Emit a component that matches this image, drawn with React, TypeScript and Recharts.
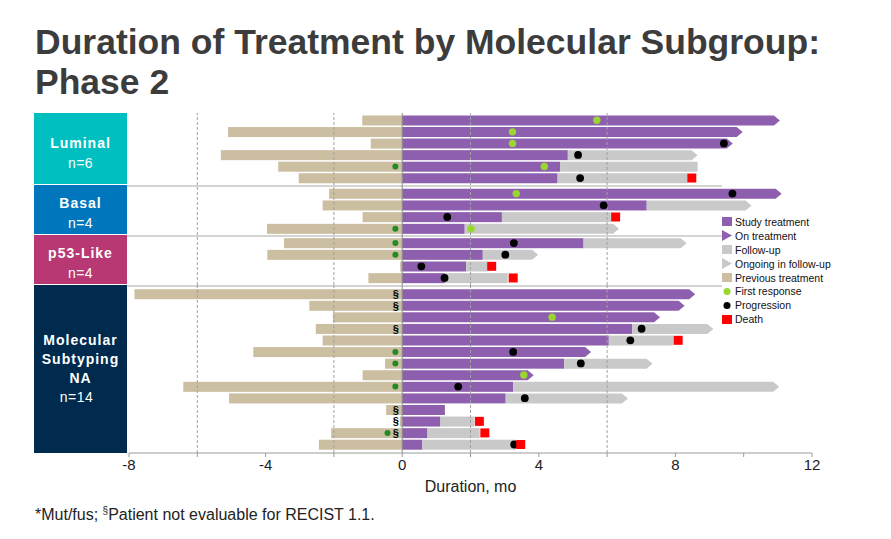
import React from 'react';
import { ComposedChart, Bar, Line, XAxis, YAxis, ReferenceLine } from 'recharts';

// ---------- data ----------
const groupNames = ['Luminal', 'Basal', 'p53-Like', 'Molecular Subtyping NA'];
const groupCounts = [6, 4, 4, 14];
const groupNLabels = ['n=6', 'n=4', 'n=4', 'n=14'];
const groupColors = ['#00BFC0', '#0077BC', '#B73873', '#002B4F'];

// months before study start (negative)
const previousTreatment = [
  -1.17, -5.1, -0.92, -5.31, -3.63, -3.03,
  -2.14, -2.33, -1.16, -3.96,
  -3.46, -3.95, -0.06, -0.99,
  -7.84, -2.72, -2.03, -2.53, -2.33, -4.36, -0.5, -1.16, -6.41, -5.07, -0.47, -0.07, -2.08, -2.44,
];
// end of study treatment (months)
const studyTreatmentEnd = [
  11.06, 9.97, 9.68, 4.85, 4.63, 4.55,
  11.11, 7.16, 2.92, 1.83,
  5.31, 2.36, 1.87, 1.26,
  8.58, 8.27, 7.55, 6.74, 6.05, 5.53, 4.74, 3.85, 3.25, 3.03, 1.25, 1.12, 0.74, 0.59,
];
const onTreatment = [
  true, true, true, false, false, false,
  true, false, false, false,
  false, false, false, false,
  true, true, true, false, false, true, false, true, false, false, false, false, false, false,
];
// end of follow-up (months)
const followUpEnd: (number | null)[] = [
  null, null, null, 8.65, 8.65, 8.35,
  null, 10.23, 6.11, 6.35,
  8.33, 3.98, 2.49, 3.09,
  null, null, null, 9.11, 7.94, null, 7.33, null, 11.04, 6.61, null, 2.11, 2.27, 3.35,
];
const ongoingFollowUp = [
  false, false, false, true, false, false,
  false, true, false, true,
  true, true, false, false,
  false, false, false, true, false, false, true, false, true, true, false, false, false, false,
];
const firstResponse: (number | null)[] = [
  5.7, 3.23, 3.23, null, 4.16, null,
  3.34, null, null, 2.02,
  null, null, null, null,
  null, null, 4.39, null, null, null, null, 3.56, null, null, null, null, null, null,
];
const progression: (number | null)[] = [
  null, null, 9.42, 5.15, null, 5.21,
  9.67, 5.9, 1.32, null,
  3.27, 3.02, 0.56, 1.24,
  null, null, null, 7.01, 6.68, 3.25, 5.23, null, 1.64, 3.59, null, null, null, 3.28,
];
const death: (number | null)[] = [
  null, null, null, null, null, 8.48,
  null, null, 6.25, null,
  null, null, 2.62, 3.25,
  null, null, null, null, 8.08, null, null, null, null, null, null, 2.26, 2.42, 3.47,
];
// * Mut/fus marker
const mutFus: (number | null)[] = [
  null, null, null, null, -0.2, null,
  null, null, null, -0.2,
  -0.2, -0.2, null, null,
  null, null, null, null, null, -0.2, -0.2, null, -0.2, null, null, null, -0.43, null,
];
// § not evaluable for RECIST 1.1
const notEvaluable: (number | null)[] = [
  null, null, null, null, null, null,
  null, null, null, null,
  null, null, null, null,
  -0.19, -0.19, null, -0.19, null, null, null, null, null, null, -0.19, -0.19, -0.19, null,
];

const xTicks = [-8, -6, -4, -2, 0, 2, 4, 6, 8, 10, 12];
const xLabelTicks = [-8, -4, 0, 4, 8, 12];
const dashedGrid = [-6, -2, 2, 6];

// ---------- colors ----------
const PURPLE = '#8F5FAF';
const GRAY = '#C9C9C9';
const TAN = '#CCBEA0';
const LGREEN = '#99D62F';
const DGREEN = '#228B22';
const RED = '#FF0000';
const FONT = '"Liberation Sans", Arial, sans-serif';

const rows = previousTreatment.map((p, i) => ({
  id: 'P' + (i + 1),
  prev: p,
  study: studyTreatmentEnd[i],
  follow: followUpEnd[i] != null ? (followUpEnd[i] as number) - studyTreatmentEnd[i] : 0,
  onTx: onTreatment[i],
  ongoing: ongoingFollowUp[i],
  resp: firstResponse[i],
  prog: progression[i],
  death: death[i],
  mut: mutFus[i],
  nev: notEvaluable[i],
}));

const arrowShape = (flag: 'onTx' | 'ongoing' | null) => (props: any) => {
  const { x, y, width, height, fill, payload } = props;
  if (x == null || width == null || Math.abs(width) < 0.5) return <g />;
  const x0 = Math.min(x, x + width);
  const w = Math.abs(width);
  if (flag && payload && payload[flag]) {
    const tip = 6;
    const pts = [
      [x0, y],
      [x0 + w - tip, y],
      [x0 + w, y + height / 2],
      [x0 + w - tip, y + height],
      [x0, y + height],
    ]
      .map((p) => p.join(','))
      .join(' ');
    return <polygon points={pts} fill={fill} />;
  }
  return <rect x={x0} y={y} width={w} height={height} fill={fill} />;
};

const markerDot = (kind: string) => (props: any) => {
  const { cx, cy, index, value } = props;
  const key = `${kind}-${index}`;
  if (value == null || cx == null || cy == null || Number.isNaN(cx)) return <g key={key} />;
  if (kind === 'resp') return <circle key={key} cx={cx} cy={cy} r={3.7} fill={LGREEN} />;
  if (kind === 'prog') return <circle key={key} cx={cx} cy={cy} r={3.9} fill="#000" />;
  if (kind === 'death')
    return <rect key={key} x={cx - 4.5} y={cy - 4.5} width={9} height={9} fill={RED} />;
  if (kind === 'mut') return <circle key={key} cx={cx} cy={cy} r={3} fill={DGREEN} />;
  if (kind === 'nev')
    return (
      <text key={key} x={cx} y={cy + 4} fontSize={11} fontWeight="bold" textAnchor="middle" fill="#000" fontFamily={FONT}>
        §
      </text>
    );
  return <g key={key} />;
};

type GroupProps = {
  data: any[];
  top: number;
  height: number;
  padTop: number;
  padBottom: number;
  showAxis: boolean;
};

const AXIS_H = 42;

function GroupChart({ data, top, height, padTop, padBottom, showAxis }: GroupProps) {
  const h = height + (showAxis ? AXIS_H : 0);
  return (
    <div style={{ position: 'absolute', left: 0, top }}>
      <ComposedChart
        width={891}
        height={h}
        data={data}
        layout="vertical"
        stackOffset="sign"
        margin={{ top: 0, right: 79, bottom: 0, left: 129 }}
        barSize={10}
      >
        <XAxis
          type="number"
          domain={[-8, 12]}
          ticks={xTicks}
          interval={0}
          hide={!showAxis}
          height={AXIS_H}
          stroke="#9a9a9a"
          tickSize={4}
          tickMargin={2}
          tick={{ fill: '#222', fontSize: 15, fontFamily: FONT }}
          tickFormatter={(v: number) => (xLabelTicks.includes(v) ? String(v) : '')}
          label={{
            value: 'Duration, mo',
            position: 'insideBottom',
            offset: 3,
            fill: '#222',
            fontSize: 16,
            fontFamily: FONT,
          }}
        />
        <YAxis type="category" dataKey="id" hide padding={{ top: padTop, bottom: padBottom }} />
        {dashedGrid.map((g) => (
          <ReferenceLine key={g} x={g} stroke="#a0a0a0" strokeDasharray="3 2" ifOverflow="extendDomain" />
        ))}
        <Bar dataKey="prev" stackId="s" fill={TAN} isAnimationActive={false} shape={arrowShape(null)} />
        <Bar dataKey="study" stackId="s" fill={PURPLE} isAnimationActive={false} shape={arrowShape('onTx')} />
        <Bar dataKey="follow" stackId="s" fill={GRAY} isAnimationActive={false} shape={arrowShape('ongoing')} />
        <ReferenceLine x={0} stroke="#8a8a8a" />
        {(['mut', 'nev', 'resp', 'prog', 'death'] as const).map((k) => (
          <Line
            key={k}
            dataKey={k}
            stroke="none"
            isAnimationActive={false}
            dot={markerDot(k)}
            activeDot={false}
            legendType="none"
          />
        ))}
      </ComposedChart>
    </div>
  );
}

const groupLayout = [
  { top: 113, height: 72, padTop: 1.5, padBottom: 1.2 },
  { top: 185, height: 50, padTop: 2.75, padBottom: 0.45 },
  { top: 235, height: 50, padTop: 2.2, padBottom: 1.2 },
  { top: 285, height: 168, padTop: 3.2, padBottom: 2.7 },
];

const legendItems: { label: string; kind: string; color: string }[] = [
  { label: 'Study treatment', kind: 'square', color: PURPLE },
  { label: 'On treatment', kind: 'triangle', color: PURPLE },
  { label: 'Follow-up', kind: 'square', color: GRAY },
  { label: 'Ongoing in follow-up', kind: 'triangle', color: GRAY },
  { label: 'Previous treatment', kind: 'square', color: TAN },
  { label: 'First response', kind: 'dot', color: LGREEN },
  { label: 'Progression', kind: 'dot', color: '#000' },
  { label: 'Death', kind: 'square', color: RED },
];

function Swatch({ kind, color }: { kind: string; color: string }) {
  return (
    <svg width={11} height={11} style={{ display: 'block', marginRight: 2 }}>
      {kind === 'square' && <rect x={0} y={1} width={10} height={9} fill={color} />}
      {kind === 'triangle' && <polygon points="0,0 10,5.5 0,11" fill={color} />}
      {kind === 'dot' && <circle cx={5} cy={5.5} r={3.5} fill={color} />}
    </svg>
  );
}

export default function App() {
  let start = 0;
  const groups = groupCounts.map((n) => {
    const d = rows.slice(start, start + n);
    start += n;
    return d;
  });

  return (
    <div
      style={{
        position: 'absolute',
        left: 0,
        top: 0,
        width: 891,
        height: 539,
        background: '#fff',
        fontFamily: FONT,
        overflow: 'hidden',
      }}
    >
      <div
        style={{
          position: 'absolute',
          left: 35,
          top: 22,
          fontSize: 35.5,
          fontWeight: 'bold',
          lineHeight: '40px',
          color: '#3C3C3C',
          whiteSpace: 'nowrap',
        }}
      >
        Duration of Treatment by Molecular Subgroup:
        <br />
        Phase 2
      </div>

      {/* group separators */}
      {[185, 235, 285].map((y) => (
        <div
          key={y}
          style={{ position: 'absolute', left: 127, top: y, width: 595, height: 2, background: '#D4D4D4' }}
        />
      ))}

      {/* group label boxes */}
      {groupNames.map((name, gi) => {
        const L = groupLayout[gi];
        const words = gi === 3 ? ['Molecular', 'Subtyping', 'NA'] : [name];
        return (
          <div
            key={name}
            style={{
              position: 'absolute',
              left: 34,
              top: L.top,
              width: 93,
              height: L.height - (gi === 3 ? 0 : 1),
              background: groupColors[gi],
              color: '#fff',
              display: 'flex',
              flexDirection: 'column',
              alignItems: 'center',
              justifyContent: 'center',
              fontSize: 14,
              lineHeight: gi === 3 ? '19px' : '20px',
              paddingTop: gi === 0 ? 8 : gi === 3 ? 0 : 6,
              boxSizing: 'border-box',
            }}
          >
            {words.map((w) => (
              <div key={w} style={{ fontWeight: 'bold', letterSpacing: 1 }}>
                {w}
              </div>
            ))}
            <div style={{ paddingRight: gi === 3 ? 8 : 0, letterSpacing: 0.5 }}>{groupNLabels[gi]}</div>
          </div>
        );
      })}

      {groups.map((d, gi) => (
        <GroupChart key={gi} data={d} {...groupLayout[gi]} showAxis={gi === 3} />
      ))}

      {/* legend */}
      <div style={{ position: 'absolute', left: 722, top: 215, background: '#fff', paddingRight: 4 }}>
        {legendItems.map((it) => (
          <div
            key={it.label}
            style={{ display: 'flex', alignItems: 'center', height: 13.9, fontSize: 10.5, color: '#111' }}
          >
            <Swatch kind={it.kind} color={it.color} />
            <span>{it.label}</span>
          </div>
        ))}
      </div>

      {/* footnote */}
      <div style={{ position: 'absolute', left: 35, top: 505, fontSize: 16, color: '#222', whiteSpace: 'nowrap' }}>
        *Mut/fus; <sup style={{ fontSize: 10 }}>§</sup>Patient not evaluable for RECIST 1.1.
      </div>
    </div>
  );
}
